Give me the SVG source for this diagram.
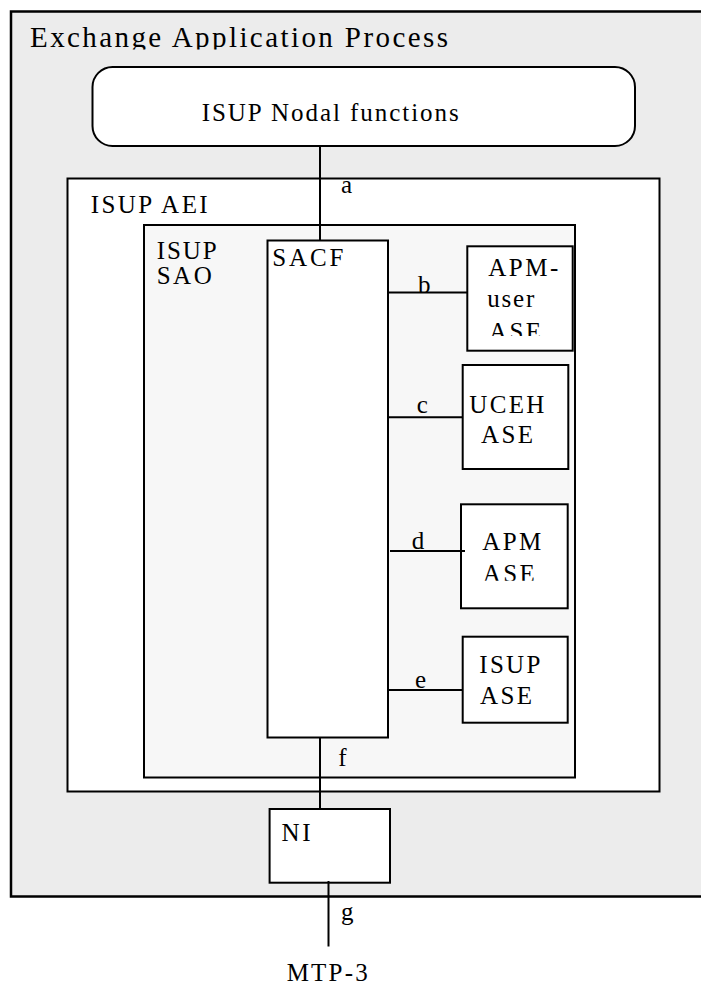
<svg xmlns="http://www.w3.org/2000/svg" width="701" height="985" viewBox="0 0 701 985">
<style>
  .box { stroke: #000; stroke-width: 2; }
  .t { font-family: "Liberation Serif", "Times New Roman", serif; font-size: 25px; fill: #000; }
  .lbl { font-family: "Liberation Serif", "Times New Roman", serif; font-size: 25px; fill: #000; }
  .conn line { stroke: #000; stroke-width: 2; }
</style>
<defs>
  <clipPath id="clipTitle"><rect x="0" y="0" width="701" height="49.5"/></clipPath>
  <clipPath id="clipApmUser"><rect x="470" y="248" width="100" height="88"/></clipPath>
  <clipPath id="clipApm"><rect x="463" y="506" width="100" height="74.7"/></clipPath>
</defs>

<g id="exchange-application-process">
  <rect x="11" y="11.5" width="710" height="885" fill="#ececec" stroke="#000" stroke-width="2.5"/>
  <text class="t" x="30" y="47.3" style="font-size:29px" textLength="418" lengthAdjust="spacing" clip-path="url(#clipTitle)">Exchange Application Process</text>
</g>

<g id="isup-nodal-functions">
  <rect class="box" x="92.5" y="67" width="542.5" height="79" rx="20" ry="20" fill="#fff"/>
  <text class="t" x="201.7" y="121" textLength="257" lengthAdjust="spacing">ISUP Nodal functions</text>
</g>

<g id="isup-aei">
  <rect class="box" x="67.5" y="178.5" width="592" height="613" fill="#fff"/>
  <text class="t" x="90.7" y="213.3" textLength="117" lengthAdjust="spacing">ISUP AEI</text>
</g>

<g id="isup-sao">
  <rect class="box" x="144" y="225" width="431" height="552.5" fill="#f7f7f7"/>
  <text class="t" x="156.7" y="259" textLength="60" lengthAdjust="spacing">ISUP</text>
  <text class="t" x="156.7" y="284.3" textLength="55" lengthAdjust="spacing">SAO</text>
</g>

<g id="sacf">
  <rect class="box" x="267.5" y="240.5" width="120.5" height="497" fill="#fff"/>
  <text class="t" x="272.3" y="266" textLength="71" lengthAdjust="spacing">SACF</text>
</g>

<g id="apm-user-ase">
  <rect class="box" x="467.3" y="246.3" width="105.4" height="104.4" fill="#fff"/>
  <text class="t" x="488.3" y="275.7" textLength="70" lengthAdjust="spacing">APM-</text>
  <text class="t" x="487.3" y="307" textLength="47" lengthAdjust="spacing">user</text>
  <text class="t" x="489" y="340" textLength="52" lengthAdjust="spacing" clip-path="url(#clipApmUser)">ASE</text>
</g>

<g id="uceh-ase">
  <rect class="box" x="462.7" y="365" width="105.6" height="104" fill="#fff"/>
  <text class="t" x="469.3" y="412.7" textLength="75" lengthAdjust="spacing">UCEH</text>
  <text class="t" x="481" y="443.3" textLength="52" lengthAdjust="spacing">ASE</text>
</g>

<g id="apm-ase">
  <rect class="box" x="461" y="504.3" width="106.7" height="104" fill="#fff"/>
  <text class="t" x="482.3" y="550" textLength="59" lengthAdjust="spacing">APM</text>
  <text class="t" x="482.7" y="581.7" textLength="52" lengthAdjust="spacing" clip-path="url(#clipApm)">ASE</text>
</g>

<g id="isup-ase">
  <rect class="box" x="462.7" y="636.7" width="105" height="86" fill="#fff"/>
  <text class="t" x="479.3" y="673.3" textLength="61" lengthAdjust="spacing">ISUP</text>
  <text class="t" x="480" y="704" textLength="52" lengthAdjust="spacing">ASE</text>
</g>

<g id="ni">
  <rect class="box" x="269.6" y="809" width="120.4" height="73.7" fill="#fff"/>
  <text class="t" x="281.6" y="841" textLength="29" lengthAdjust="spacing">NI</text>
</g>

<g id="mtp-3">
  <text class="t" x="286.7" y="981" textLength="81" lengthAdjust="spacing">MTP-3</text>
</g>

<g id="connectors" class="conn">
  <line x1="320" y1="146" x2="320" y2="240.5"/>
  <text class="lbl" x="341" y="193">a</text>
  <line x1="388" y1="292.5" x2="467.3" y2="292.5"/>
  <text class="lbl" x="418" y="293">b</text>
  <line x1="388" y1="417.3" x2="462.7" y2="417.3"/>
  <text class="lbl" x="416.7" y="412.7">c</text>
  <line x1="390" y1="551" x2="465" y2="551"/>
  <text class="lbl" x="411.7" y="549.3">d</text>
  <line x1="388" y1="690" x2="462.7" y2="690"/>
  <text class="lbl" x="415" y="687.7">e</text>
  <line x1="320" y1="737.5" x2="320" y2="809"/>
  <text class="lbl" x="338.3" y="766">f</text>
  <line x1="328.5" y1="881" x2="328.5" y2="946.5"/>
  <text class="lbl" x="341" y="920">g</text>
</g>
</svg>
